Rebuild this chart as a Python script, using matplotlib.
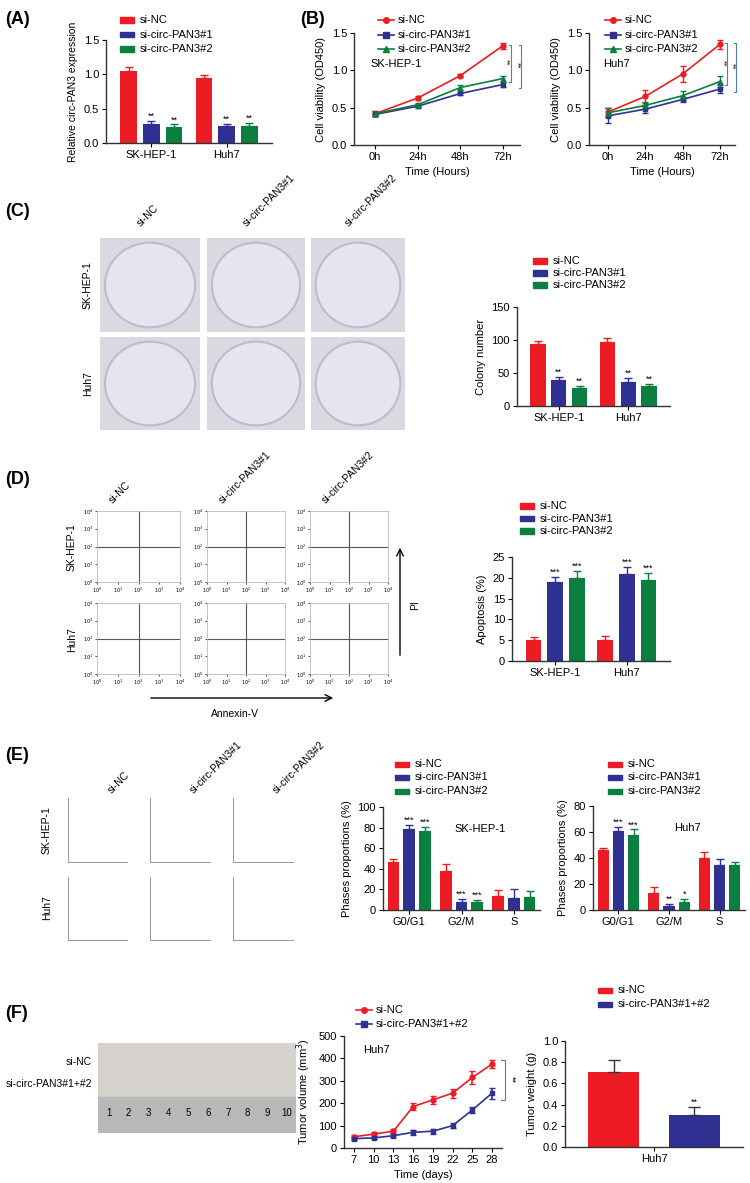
import matplotlib
matplotlib.use("Agg")
import matplotlib.pyplot as plt
import numpy as np
from matplotlib.patches import Circle, Rectangle, FancyArrowPatch

plt.rcParams["font.family"] = "Liberation Sans"
W, H = 750, 1183
fig = plt.figure(figsize=(7.5, 11.83), dpi=100)

RED, BLUE, GREEN = "#ED1C24", "#2E3192", "#0A7F3F"
COLS = [RED, BLUE, GREEN]
groups3 = ["si-NC", "si-circ-PAN3#1", "si-circ-PAN3#2"]
cells = ["SK-HEP-1", "Huh7"]

# ---- data ----
A_vals = [[1.05, 0.95], [0.28, 0.25], [0.24, 0.25]]
A_err = [[0.06, 0.04], [0.04, 0.03], [0.03, 0.04]]
A_sig = [["", ""], ["**", "**"], ["**", "**"]]

B_time = ["0h", "24h", "48h", "72h"]
B_sk = [[0.42, 0.63, 0.93, 1.33], [0.41, 0.52, 0.69, 0.81], [0.42, 0.54, 0.77, 0.89]]
B_sk_err = [[0.03, 0.03, 0.02, 0.04], [0.02, 0.02, 0.02, 0.03], [0.03, 0.02, 0.03, 0.04]]
B_hu = [[0.44, 0.65, 0.95, 1.35], [0.39, 0.48, 0.61, 0.75], [0.43, 0.53, 0.66, 0.85]]
B_hu_err = [[0.05, 0.09, 0.11, 0.06], [0.10, 0.05, 0.03, 0.05], [0.06, 0.05, 0.06, 0.07]]

C_vals = [[94, 97], [40, 37], [27, 30]]
C_err = [[4, 6], [4, 6], [4, 4]]

D_vals = [[5, 5], [19, 21], [20, 19.5]]
D_err = [[0.8, 1.0], [1.3, 1.6], [1.6, 1.6]]
D_sig = [["", ""], ["***", "***"], ["***", "***"]]

phases = ["G0/G1", "G2/M", "S"]
E_sk = [[47, 38, 14], [79, 8, 12], [77, 8, 13]]
E_sk_err = [[3, 7, 5], [4, 3, 8], [4, 2, 5]]
E_sk_sig = [["", "", ""], ["***", "***", ""], ["***", "***", ""]]
E_hu = [[46, 13, 40], [61, 3, 35], [58, 6, 35]]
E_hu_err = [[2, 5, 5], [3, 2, 4], [4, 2.5, 2]]
E_hu_sig = [["", "", ""], ["***", "**", ""], ["***", "*", ""]]

F_days = [7, 10, 13, 16, 19, 22, 25, 28]
F_nc = [50, 62, 75, 185, 215, 245, 315, 375]
F_nc_err = [8, 8, 8, 15, 18, 20, 30, 20]
F_kd = [42, 45, 55, 70, 75, 100, 170, 245]
F_kd_err = [6, 6, 6, 10, 12, 10, 15, 25]
F_groups = ["si-NC", "si-circ-PAN3#1+#2"]
F_w = [0.71, 0.30]
F_w_err = [0.11, 0.08]

FS = 8


def ax_px(x0, y0, x1, y1, **kw):
    return fig.add_axes([x0 / W, 1 - y1 / H, (x1 - x0) / W, (y1 - y0) / H], **kw)


def style(ax):
    for s in ["top", "right"]:
        ax.spines[s].set_visible(False)
    for s in ["left", "bottom"]:
        ax.spines[s].set_linewidth(1.0)
        ax.spines[s].set_color("#333333")
    ax.tick_params(labelsize=FS, length=3, width=0.8, pad=2)


def fig_text(x, y, s, **kw):
    fig.text(x / W, 1 - y / H, s, **kw)


def legend_px(x, y, labels, colors, marker=None, dy=14.5, size=FS):
    for i, (lab, c) in enumerate(zip(labels, colors)):
        yy = y + i * dy
        if marker is None:
            fig.patches.append(Rectangle(((x) / W, 1 - (yy + 2.5) / H), 14 / W, 5 / H,
                                         transform=fig.transFigure, color=c))
        else:
            fig.lines.append(plt.Line2D([x / W, (x + 16) / W], [1 - yy / H] * 2,
                                        transform=fig.transFigure, color=c, lw=1.2))
            fig.lines.append(plt.Line2D([(x + 8) / W], [1 - yy / H],
                                        transform=fig.transFigure, color=c, lw=0,
                                        marker=marker[i], ms=4))
        fig_text(x + 20, yy, lab, fontsize=size, va="center", ha="left")


def grouped_bars(ax, vals, errs, sigs, cats, width=0.22, gap=0.3):
    n = len(vals)
    x = np.arange(len(cats))
    for i in range(n):
        xs = x + (i - (n - 1) / 2) * gap
        ax.bar(xs, vals[i], width, color=COLS[i])
        ax.errorbar(xs, vals[i], yerr=[np.zeros(len(cats)), errs[i]], fmt="none",
                    ecolor=COLS[i], capsize=3, elinewidth=1)
        if sigs is not None:
            for xx, v, e, s in zip(xs, vals[i], errs[i], sigs[i]):
                if s:
                    ax.text(xx, v + e, s, ha="center", va="bottom", fontsize=6.5)
    ax.set_xticks(x)
    ax.set_xticklabels(cats)


# ---- panel labels ----
for lab, x, y in [("(A)", 5, 20), ("(B)", 300, 20), ("(C)", 5, 212), ("(D)", 5, 480),
                  ("(E)", 5, 755), ("(F)", 5, 1013)]:
    fig_text(x, y, lab, fontsize=13, fontweight="bold", va="center")

# ---- A ----
ax = ax_px(106, 40, 272, 143)
grouped_bars(ax, A_vals, A_err, A_sig, cells)
ax.set_ylim(0, 1.5)
ax.set_yticks([0, 0.5, 1.0, 1.5])
ax.set_xlim(-0.6, 1.6)
ax.set_ylabel("Relative circ-PAN3 expression", fontsize=7.5)
style(ax)
legend_px(120, 20, groups3, COLS)

# ---- B ----
mk = ["o", "s", "^"]


def growth(x0, x1, data, err, title):
    ax = ax_px(x0, 33, x1, 145)
    xs = np.arange(4)
    for i in range(3):
        ax.errorbar(xs, data[i], yerr=err[i], color=COLS[i], marker=mk[i], ms=3.5,
                    lw=1.2, capsize=2, elinewidth=1)
    ax.set_ylim(0, 1.5)
    ax.set_yticks([0, 0.5, 1.0, 1.5])
    ax.set_xlim(-0.5, 3.4)
    ax.set_xticks(xs)
    ax.set_xticklabels(B_time)
    ax.set_ylabel("Cell viability (OD450)", fontsize=8)
    ax.set_xlabel("Time (Hours)", fontsize=8)
    ax.text(0.1, 0.7, title, transform=ax.transAxes, fontsize=FS)
    style(ax)
    for g, xo, tx in [(2, 3.18, 3.07), (1, 3.42, 3.32)]:
        y0, y1 = data[0][3], data[g][3]
        ax.plot([xo - 0.05, xo, xo, xo - 0.05], [y0 + 0.01, y0 + 0.01, y1 - 0.04, y1 - 0.04],
                color="#4A7FC1", lw=0.8, clip_on=False)
        ax.text(tx, (y0 + y1) / 2, "**", rotation=-90, fontsize=6,
                ha="center", va="center")
    return ax


growth(354, 520, B_sk, B_sk_err, "SK-HEP-1")
legend_px(378, 20, groups3, COLS, marker=mk)
growth(589, 735, B_hu, B_hu_err, "Huh7")
legend_px(605, 20, groups3, COLS, marker=mk)

# ---- C photos ----
cx = [(100, 200), (207, 305), (311, 405)]
for j, (a, b) in enumerate(cx):
    fig_text((a + b) / 2 - 15, 228, groups3[j], rotation=45, fontsize=7.5, ha="left", va="bottom")
    for r, (ya, yb) in enumerate([(238, 332), (337, 430)]):
        p = ax_px(a, ya, b, yb)
        p.set_xlim(0, 1); p.set_ylim(0, 1)
        p.set_facecolor("#D9D9E1")
        p.add_patch(Circle((0.5, 0.5), 0.45, transform=p.transAxes, fc="#E6E4EE",
                           ec="#BEBBCC", lw=1.5))
        p.set_xticks([]); p.set_yticks([])
        for s in p.spines.values():
            s.set_visible(False)
fig_text(88, 285, "SK-HEP-1", rotation=90, fontsize=7.5, ha="center", va="center")
fig_text(88, 384, "Huh7", rotation=90, fontsize=7.5, ha="center", va="center")

ax = ax_px(517, 307, 670, 406)
grouped_bars(ax, C_vals, C_err, [["", ""], ["**", "**"], ["**", "**"]], cells)
ax.set_ylim(0, 150); ax.set_yticks([0, 50, 100, 150]); ax.set_xlim(-0.6, 1.6)
ax.set_ylabel("Colony number", fontsize=8)
style(ax)
legend_px(533, 261, groups3, COLS, dy=12)

# ---- D flow frames ----
dx = [(97, 180), (207, 285), (310, 388)]
for j, (a, b) in enumerate(dx):
    fig_text(a + 10, 505, groups3[j], rotation=45, fontsize=7.5, ha="left", va="bottom")
    for r, (ya, yb) in enumerate([(511, 582), (603, 674)]):
        p = ax_px(a, ya, b, yb)
        p.set_xlim(0, 4); p.set_ylim(0, 4)
        p.axvline(2, color="#555", lw=0.8); p.axhline(2, color="#555", lw=0.8)
        p.set_xticks(range(5)); p.set_yticks(range(5))
        p.set_xticklabels([f"$10^{k}$" for k in range(5)], fontsize=3.5)
        p.set_yticklabels([f"$10^{k}$" for k in range(5)], fontsize=3.5)
        p.tick_params(length=1.5, width=0.5, pad=1)
        for s in p.spines.values():
            s.set_color("#BBBBBB"); s.set_linewidth(0.6)
fig_text(72, 547, "SK-HEP-1", rotation=90, fontsize=7.5, ha="center", va="center")
fig_text(72, 640, "Huh7", rotation=90, fontsize=7.5, ha="center", va="center")
fig.patches.append(FancyArrowPatch((148 / W, 1 - 698 / H), (336 / W, 1 - 698 / H),
                                   transform=fig.transFigure, arrowstyle="->",
                                   mutation_scale=12, lw=1))
fig_text(235, 714, "Annexin-V", fontsize=7.5, ha="center", va="center")
fig.patches.append(FancyArrowPatch((400 / W, 1 - 658 / H), (400 / W, 1 - 545 / H),
                                   transform=fig.transFigure, arrowstyle="->",
                                   mutation_scale=12, lw=1))
fig_text(415, 605, "PI", rotation=90, fontsize=7.5, ha="center", va="center")

ax = ax_px(512, 557, 670, 661)
grouped_bars(ax, D_vals, D_err, D_sig, cells)
ax.set_ylim(0, 25); ax.set_yticks([0, 5, 10, 15, 20, 25]); ax.set_xlim(-0.6, 1.6)
ax.set_ylabel("Apoptosis (%)", fontsize=8)
style(ax)
legend_px(520, 506, groups3, COLS, dy=12.5)

# ---- E histogram frames ----
ex = [(68, 127), (150, 210), (233, 293)]
for j, (a, b) in enumerate(ex):
    fig_text(a + 38, 795, groups3[j], rotation=45, fontsize=7.5, ha="left", va="bottom")
    for r, (ya, yb) in enumerate([(798, 862), (877, 940)]):
        p = ax_px(a, ya, b, yb)
        p.set_xticks([]); p.set_yticks([])
        for s in ["top", "right"]:
            p.spines[s].set_visible(False)
        for s in ["left", "bottom"]:
            p.spines[s].set_color("#888"); p.spines[s].set_linewidth(0.6)
fig_text(47, 830, "SK-HEP-1", rotation=90, fontsize=7.5, ha="center", va="center")
fig_text(47, 908, "Huh7", rotation=90, fontsize=7.5, ha="center", va="center")


def phase_ax(x0, x1, ytop, ymax, data, err, sig, title, yt):
    ax = ax_px(x0, ytop, x1, 910)
    grouped_bars(ax, data, err, sig, phases, gap=0.3)
    ax.set_ylim(0, ymax); ax.set_yticks(yt); ax.set_xlim(-0.5, 2.5)
    ax.set_ylabel("Phases proportions (%)", fontsize=8)
    ax.text(0.62, 0.76, title, transform=ax.transAxes, fontsize=FS, ha="center")
    style(ax)


phase_ax(383, 540, 807, 100, E_sk, E_sk_err, E_sk_sig, "SK-HEP-1", [0, 20, 40, 60, 80, 100])
legend_px(395, 764, groups3, COLS, dy=13.5)
phase_ax(593, 745, 806, 80, E_hu, E_hu_err, E_hu_sig, "Huh7", [0, 20, 40, 60, 80])
legend_px(608, 764, groups3, COLS, dy=13.5)

# ---- F ----
p = ax_px(98, 1043, 296, 1133)
p.set_facecolor("#D6D2CE")
p.set_xlim(0, 10); p.set_ylim(0, 1)
p.add_patch(Rectangle((0, 0), 10, 0.4, color="#B8B8B8"))
for k in range(1, 11):
    p.text(k - 0.45, 0.22, str(k), fontsize=7, ha="center", va="center")
p.set_xticks([]); p.set_yticks([])
for s in p.spines.values():
    s.set_visible(False)
fig_text(92, 1062, "si-NC", fontsize=7.5, ha="right", va="center")
fig_text(92, 1084, "si-circ-PAN3#1+#2", fontsize=7.5, ha="right", va="center")

ax = ax_px(344, 1036, 502, 1148)
ax.errorbar(F_days, F_nc, yerr=F_nc_err, color=RED, marker="o", ms=3.5, lw=1.2, capsize=2)
ax.errorbar(F_days, F_kd, yerr=F_kd_err, color=BLUE, marker="s", ms=3.5, lw=1.2, capsize=2)
ax.set_ylim(0, 500); ax.set_yticks([0, 100, 200, 300, 400, 500])
ax.set_xlim(5.5, 29.5); ax.set_xticks(F_days)
ax.set_ylabel("Tumor volume (mm$^3$)", fontsize=8)
ax.set_xlabel("Time (days)", fontsize=8)
ax.text(0.12, 0.85, "Huh7", transform=ax.transAxes, fontsize=FS)
ax.plot([29.4, 29.9, 29.9, 29.4], [393, 393, 215, 215], color="#4A7FC1", lw=0.8, clip_on=False)
ax.text(31.0, 304, "**", rotation=-90, fontsize=6.5, ha="center", va="center")
style(ax)
legend_px(356, 1010, F_groups, [RED, BLUE], marker=["o", "s"], dy=14)

ax = ax_px(565, 1041, 743, 1147)
xs = np.arange(2)
ax.bar(xs, F_w, 0.62, color=[RED, BLUE])
ax.errorbar(xs, F_w, yerr=[[0, 0], F_w_err], fmt="none", ecolor="#333", capsize=4, elinewidth=1)
ax.text(1, F_w[1] + F_w_err[1], "**", ha="center", va="bottom", fontsize=6.5)
ax.set_ylim(0, 1.0); ax.set_yticks([0, 0.2, 0.4, 0.6, 0.8, 1.0])
ax.set_yticklabels(["0.0", "0.2", "0.4", "0.6", "0.8", "1.0"])
ax.set_xlim(-0.6, 1.6)
ax.set_xticks([0.5]); ax.set_xticklabels(["Huh7"])
ax.set_ylabel("Tumor weight (g)", fontsize=8)
style(ax)
legend_px(598, 990, F_groups, [RED, BLUE], dy=14)

fig.savefig("out.png", dpi=100)
